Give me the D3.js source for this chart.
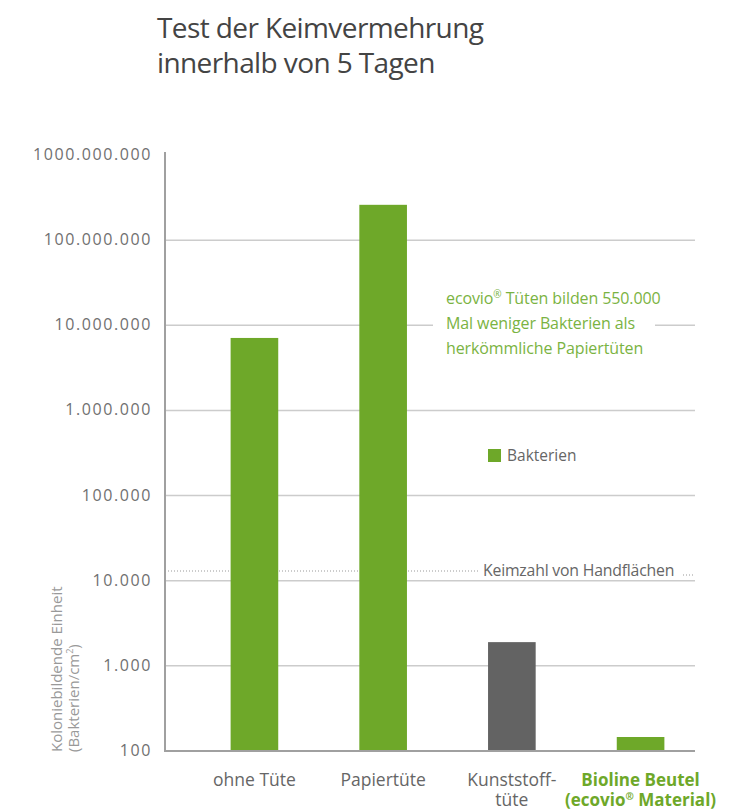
<!DOCTYPE html>
<html>
<head>
<meta charset="utf-8">
<script src="https://cdn.jsdelivr.net/npm/d3@7"></script>
<style>
  body { margin: 0; background: #fff; }
  svg { display: block; }
  text { font-family: "Open Sans", sans-serif; }
</style>
</head>
<body>
<div id="chart"></div>
<script>
// data
var categories = ['ohne Tüte', 'Papiertüte', 'Kunststofftüte', 'Bioline Beutel'];
var catLines = [['ohne Tüte'], ['Papiertüte'], ['Kunststoff-', 'tüte'], ['Bioline Beutel', '(ecovio® Material)']];
var bakterien = [7100000, 260000000, 1900, 146];
var barColors = ['#6ea829', '#6ea829', '#636363', '#6ea829'];
var tickValues = [100, 1000, 10000, 100000, 1000000, 10000000, 100000000, 1000000000];
var tickLabels = ['100', '1.000', '10.000', '100.000', '1.000.000', '10.000.000', '100.000.000', '1000.000.000'];
var handflaechen = 13000;

var width = 732, height = 812;
var svg = d3.select('#chart').append('svg')
    .attr('width', width)
    .attr('height', height);

var x0 = 165, x1 = 695;
var y = d3.scaleLog().domain([100, 1000000000]).range([751, 155]);
var x = d3.scaleBand().domain(categories).range([192, 703]).paddingInner(0.63).paddingOuter(0.3);

// title
svg.append('text').attr('x', 157).attr('y', 38)
    .attr('font-size', 28).attr('letter-spacing', -0.6).attr('fill', '#444').text('Test der Keimvermehrung');
svg.append('text').attr('x', 157).attr('y', 73)
    .attr('font-size', 28).attr('letter-spacing', -0.6).attr('fill', '#444').text('innerhalb von 5 Tagen');

// gridlines
svg.selectAll('line.grid')
    .data(tickValues.slice(1, 7))
    .enter().append('line')
    .attr('class', 'grid')
    .attr('x1', x0).attr('x2', x1)
    .attr('y1', function(d) { return y(d); })
    .attr('y2', function(d) { return y(d); })
    .attr('stroke', '#cccccc').attr('stroke-width', 1.5);

// tick labels
svg.selectAll('text.tick')
    .data(tickValues)
    .enter().append('text')
    .attr('class', 'tick')
    .attr('x', 152)
    .attr('y', function(d) { return y(d) + 5; })
    .attr('text-anchor', 'end')
    .attr('font-family', 'Lato, sans-serif')
    .attr('font-size', 16)
    .attr('letter-spacing', 1.6)
    .attr('fill', '#707070')
    .text(function(d, i) { return tickLabels[i]; });

// handflächen dotted line
var hy = y(handflaechen);
svg.append('line').attr('x1', x0).attr('x2', 480).attr('y1', hy).attr('y2', hy)
    .attr('stroke', '#999').attr('stroke-width', 1).attr('stroke-dasharray', '1,2');
svg.append('line').attr('x1', 683).attr('x2', x1).attr('y1', hy + 4).attr('y2', hy + 4)
    .attr('stroke', '#999').attr('stroke-width', 1).attr('stroke-dasharray', '1,2');
svg.append('text').attr('x', 483).attr('y', hy + 5)
    .attr('font-size', 15.8).attr('letter-spacing', -0.2).attr('fill', '#666').text('Keimzahl von Handflächen');

// bars
svg.selectAll('rect.bar')
    .data(bakterien)
    .enter().append('rect')
    .attr('class', 'bar')
    .attr('x', function(d, i) { return x(categories[i]); })
    .attr('width', x.bandwidth())
    .attr('y', function(d) { return y(d); })
    .attr('height', function(d) { return y(100) - y(d); })
    .attr('fill', function(d, i) { return barColors[i]; });

// axis lines
svg.append('line').attr('x1', x0).attr('x2', x0).attr('y1', 152).attr('y2', 752)
    .attr('stroke', '#a0a0a0').attr('stroke-width', 2);
svg.append('line').attr('x1', x0).attr('x2', x1).attr('y1', 751).attr('y2', 751)
    .attr('stroke', '#a0a0a0').attr('stroke-width', 2);

// annotation (masks the 10M gridline)
svg.append('rect').attr('x', 433).attr('y', 284).attr('width', 222).attr('height', 76).attr('fill', '#fff');
var note = svg.append('text').attr('font-size', 16).attr('letter-spacing', -0.1).attr('fill', '#7ab342');
note.append('tspan').attr('x', 446).attr('y', 304).text('ecovio');
note.append('tspan').attr('font-size', 10).attr('dy', -6).text('®');
note.append('tspan').attr('dy', 6).text(' Tüten bilden 550.000');
note.append('tspan').attr('x', 446).attr('y', 329).text('Mal weniger Bakterien als');
note.append('tspan').attr('x', 446).attr('y', 354).text('herkömmliche Papiertüten');

// legend
svg.append('rect').attr('x', 488).attr('y', 449).attr('width', 13).attr('height', 13).attr('fill', '#6ea829');
svg.append('text').attr('x', 507).attr('y', 461)
    .attr('font-size', 15.5).attr('fill', '#666').text('Bakterien');

// category labels
categories.forEach(function(c, i) {
  var cx = x(c) + x.bandwidth() / 2;
  var last = i === 3;
  var t = svg.append('text')
      .attr('text-anchor', 'middle')
      .attr('font-size', last ? 17 : 17.5)
      .attr('font-weight', last ? 'bold' : 'normal')
      .attr('fill', last ? '#6ea829' : '#666');
  catLines[i].forEach(function(line, j) {
    var ts = t.append('tspan').attr('x', cx).attr('y', 786 + j * 20);
    if (line.indexOf('®') >= 0) {
      var parts = line.split('®');
      ts.text(parts[0]);
      t.append('tspan').attr('font-size', 10).attr('dy', -6).text('®');
      t.append('tspan').attr('dy', 6).text(parts[1]);
    } else {
      ts.text(line);
    }
  });
});

// y axis title
var yt = svg.append('text')
    .attr('transform', 'translate(62,752) rotate(-90)')
    .attr('font-size', 15).attr('fill', '#999');
yt.append('tspan').attr('x', 0).attr('y', 0).text('Koloniebildende Einheit');
yt.append('tspan').attr('x', 0).attr('y', 17).text('(Bakterien/cm');
yt.append('tspan').attr('font-size', 9).attr('dy', -6).text('2');
yt.append('tspan').attr('dy', 6).text(')');
</script>
</body>
</html>
